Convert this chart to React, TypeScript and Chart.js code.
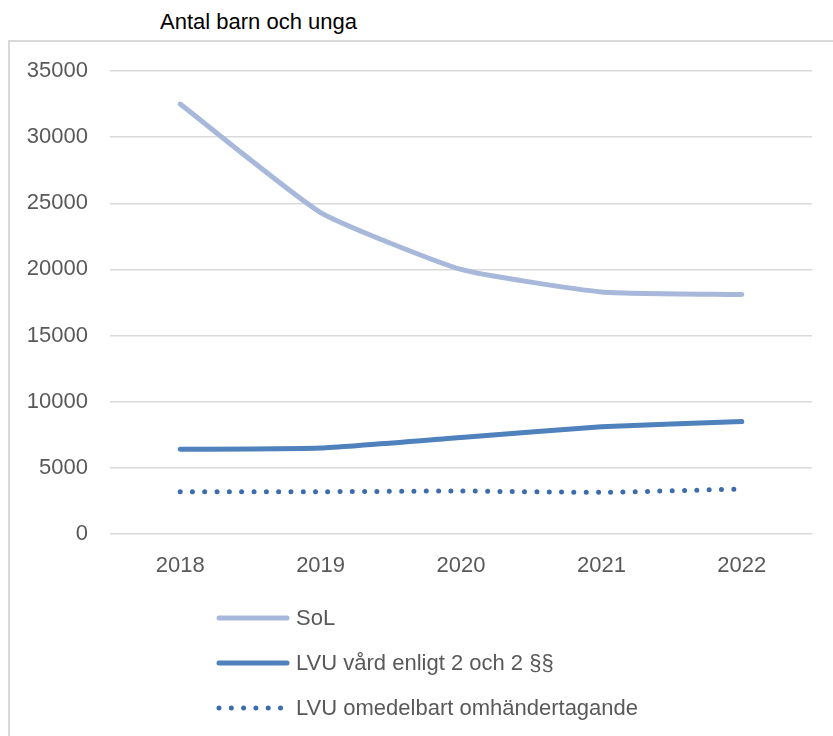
import React, { useEffect, useRef } from "react";
import { Chart, registerables } from "chart.js";

Chart.register(...registerables);

const years = ["2018", "2019", "2020", "2021", "2022"];
const solValues = [32500, 24300, 20000, 18300, 18100];
const lvuVardValues = [6400, 6500, 7300, 8100, 8500];
const lvuOmedelbartValues = [3200, 3200, 3250, 3150, 3400];
const seriesNames = ["SoL", "LVU vård enligt 2 och 2 §§", "LVU omedelbart omhändertagande"];
const yTicks = [0, 5000, 10000, 15000, 20000, 25000, 30000, 35000];

const FONT = "'Liberation Sans', Arial, sans-serif";

const legendPlugin = {
  id: "verticalLegend",
  afterDraw(chart: any) {
    const ctx = chart.ctx;
    const area = chart.chartArea;
    const x0 = 219;
    const x1 = 287;
    const startY = area.bottom + 84;
    const step = 45;
    chart.data.datasets.forEach((ds: any, i: number) => {
      const y = startY + i * step;
      ctx.save();
      ctx.strokeStyle = ds.borderColor;
      ctx.lineWidth = ds.borderWidth;
      ctx.lineCap = "round";
      ctx.setLineDash(ds.borderDash || []);
      ctx.beginPath();
      ctx.moveTo(x0, y);
      ctx.lineTo(x1, y);
      ctx.stroke();
      ctx.setLineDash([]);
      ctx.fillStyle = "#595959";
      ctx.font = `22px ${FONT}`;
      ctx.textBaseline = "middle";
      ctx.textAlign = "left";
      ctx.fillText(ds.label, 296, y + 1);
      ctx.restore();
    });
  },
};

export default function App() {
  const canvasRef = useRef<HTMLCanvasElement | null>(null);

  useEffect(() => {
    if (!canvasRef.current) return;
    const chart = new Chart(canvasRef.current, {
      type: "line",
      data: {
        labels: years,
        datasets: [
          {
            label: seriesNames[0],
            data: solValues,
            borderColor: "#a8b8da",
            borderWidth: 5,
            borderCapStyle: "round",
            borderJoinStyle: "round",
            pointRadius: 0,
            tension: 0.15,
          },
          {
            label: seriesNames[1],
            data: lvuVardValues,
            borderColor: "#4f81bd",
            borderWidth: 5,
            borderCapStyle: "round",
            borderJoinStyle: "round",
            pointRadius: 0,
            tension: 0.15,
          },
          {
            label: seriesNames[2],
            data: lvuOmedelbartValues,
            borderColor: "#3d6cad",
            borderWidth: 5,
            borderCapStyle: "round",
            borderDash: [0, 12.3],
            pointRadius: 0,
            tension: 0.15,
          },
        ],
      },
      options: {
        animation: false,
        responsive: false,
        maintainAspectRatio: false,
        layout: { padding: { left: 0, right: 21, top: 71, bottom: 152 } },
        plugins: {
          legend: { display: false },
          tooltip: { enabled: false },
          title: { display: false },
        },
        scales: {
          x: {
            offset: true,
            grid: { display: false, drawTicks: false },
            border: { display: false },
            ticks: {
              color: "#595959",
              font: { family: FONT, size: 22 },
              padding: 19,
              maxRotation: 0,
            },
            afterFit: (scale: any) => {
              scale.height = 50;
            },
          },
          y: {
            min: 0,
            max: 35000,
            afterBuildTicks: (scale: any) => {
              scale.ticks = yTicks.map((v) => ({ value: v }));
            },
            grid: { color: "#d9d9d9", lineWidth: 1.5, drawTicks: false },
            border: { display: false },
            ticks: {
              color: "#595959",
              font: { family: FONT, size: 22 },
              padding: 22,
              callback: (v: any) => String(v),
            },
            afterFit: (scale: any) => {
              scale.width = 110;
            },
          },
        },
      },
      plugins: [legendPlugin],
    });
    return () => chart.destroy();
  }, []);

  return (
    <div style={{ position: "absolute", left: 0, top: 0, width: 833, height: 736, overflow: "hidden", background: "#fff" }}>
      <div
        style={{
          position: "absolute",
          left: 8,
          top: 40,
          width: 900,
          height: 800,
          border: "2px solid #d9d9d9",
          boxSizing: "border-box",
        }}
      />
      <div
        style={{
          position: "absolute",
          left: 160,
          top: 7,
          fontFamily: FONT,
          fontSize: 22,
          lineHeight: "30px",
          color: "#000",
          whiteSpace: "nowrap",
        }}
      >
        Antal barn och unga
      </div>
      <canvas ref={canvasRef} width={833} height={736} style={{ position: "absolute", left: 0, top: 0 }} />
    </div>
  );
}
